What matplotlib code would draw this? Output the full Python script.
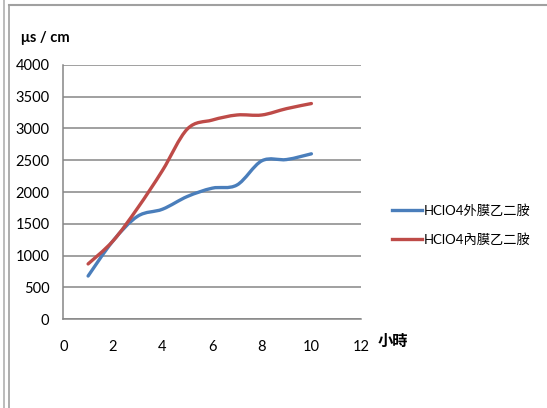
import numpy as np
import matplotlib
matplotlib.use("Agg")
import matplotlib.pyplot as plt
from matplotlib.path import Path
from matplotlib.patches import PathPatch
from matplotlib.lines import Line2D

plt.rcParams['font.family'] = ['Lato', 'Noto Sans CJK TC', 'DejaVu Sans']

hours = [1, 2, 3, 4, 5, 6, 7, 8, 9, 10]
outer = [680, 1230, 1620, 1730, 1930, 2060, 2110, 2490, 2510, 2600]
inner = [870, 1230, 1750, 2340, 2990, 3130, 3210, 3210, 3310, 3390]
labels = ['HClO4外膜乙二胺', 'HClO4內膜乙二胺']
colors = ['#4a7ebb', '#be4b48']


def smooth_path(xs, ys):
    # Catmull-Rom style bezier, similar to Excel's smoothed line
    pts = np.column_stack([xs, ys]).astype(float)
    verts = [pts[0]]
    codes = [Path.MOVETO]
    n = len(pts)
    for i in range(n - 1):
        p0 = pts[i - 1] if i > 0 else pts[i]
        p1 = pts[i]
        p2 = pts[i + 1]
        p3 = pts[i + 2] if i + 2 < n else pts[i + 1]
        c1 = p1 + (p2 - p0) / 6.0
        c2 = p2 - (p3 - p1) / 6.0
        verts += [c1, c2, p2]
        codes += [Path.CURVE4] * 3
    return Path(verts, codes)


fig = plt.figure(figsize=(5.47, 4.08), dpi=100)
ax = fig.add_axes([0.1157, 0.2174, 0.66 - 0.1157, 0.8414 - 0.2174])

for ys, c, lab in zip([outer, inner], colors, labels):
    ax.add_patch(PathPatch(smooth_path(hours, ys), fill=False, edgecolor=c,
                           lw=2.4, capstyle='round', joinstyle='round'))
    ax.plot([], [], color=c, lw=2.4, label=lab)

ax.set_xlim(0, 12)
ax.set_ylim(0, 4000)
ax.set_xticks(range(0, 13, 2))
ax.set_yticks(range(0, 4001, 500))
ax.yaxis.grid(True, color='#868686', lw=1.1)
ax.set_axisbelow(True)
for s in ['top', 'right']:
    ax.spines[s].set_visible(False)
for s in ['left', 'bottom']:
    ax.spines[s].set_color('#868686')
    ax.spines[s].set_linewidth(1.1)
ax.tick_params(length=0, labelsize=10.5, colors='black')
ax.tick_params(axis='y', pad=10)
ax.tick_params(axis='x', pad=15)

fig.text(21 / 547, 1 - 38 / 408, 'μs / cm', fontsize=10.5, fontweight='bold',
         va='center', ha='left')
fig.text(378 / 547, 1 - 342 / 408, '小時', fontsize=11, fontweight='bold',
         va='center', ha='left')

ax.legend(loc='center left', bbox_to_anchor=(380 / 547, 1 - 225 / 408),
          bbox_transform=fig.transFigure, frameon=False, fontsize=9.5,
          handlelength=2.3, handletextpad=0.1, labelspacing=1.25)

# outer frame lines
fig.add_artist(Line2D([9 / 547, 1], [1 - 5 / 408] * 2, color='#a0a0a0', lw=1.5,
                      transform=fig.transFigure))
fig.add_artist(Line2D([3.5 / 547] * 2, [0, 1], color='#b0b0b0', lw=1.2,
                      transform=fig.transFigure))
fig.add_artist(Line2D([8.5 / 547] * 2, [0, 1 - 5 / 408], color='#a0a0a0', lw=1.2,
                      transform=fig.transFigure))

fig.savefig('out.png', dpi=100)
